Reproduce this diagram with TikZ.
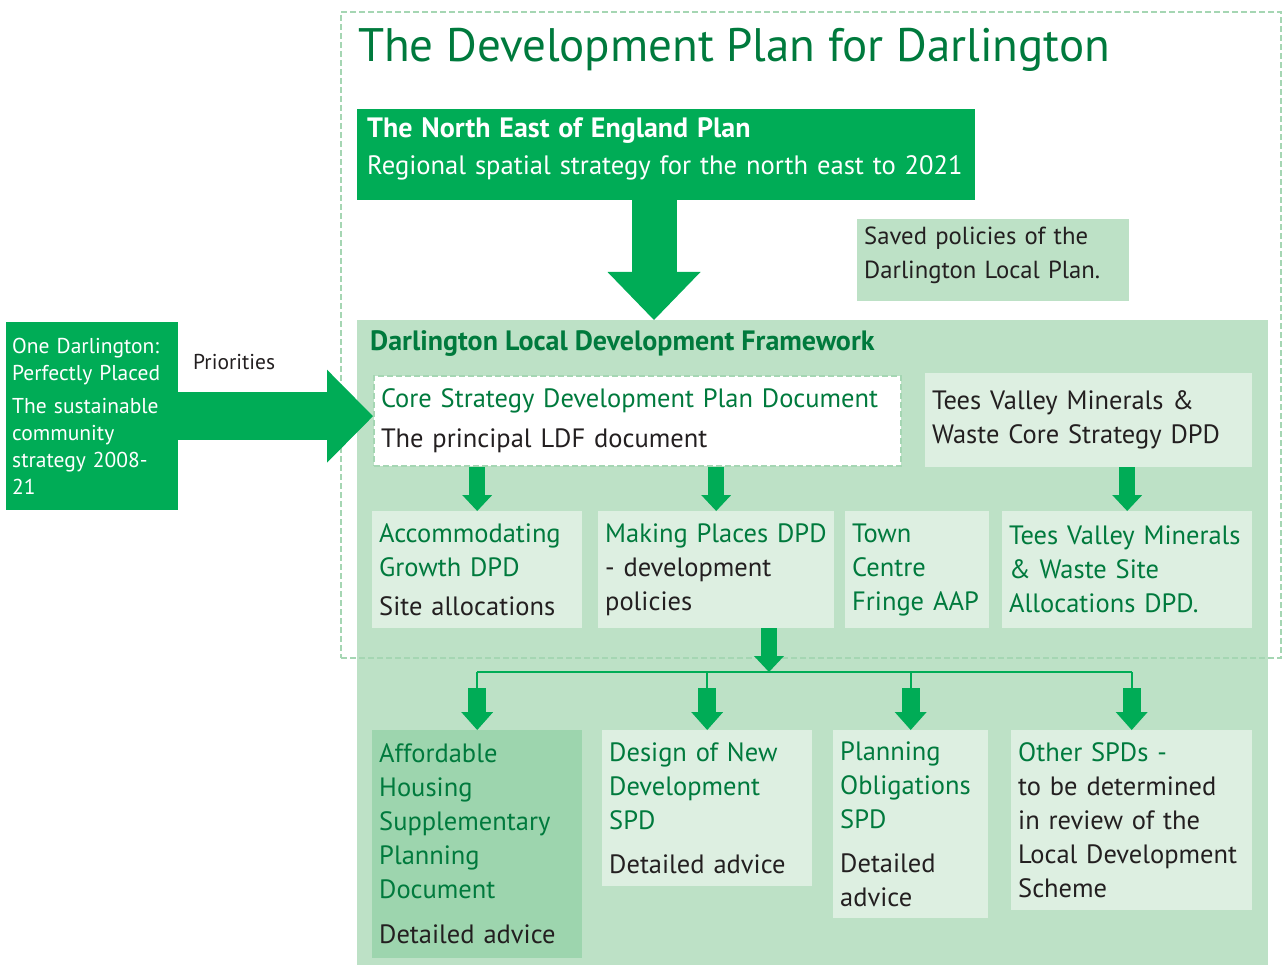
\documentclass[tikz,border=0pt]{standalone}
\usepackage{fontspec}
\setmainfont{PT Sans}
\usetikzlibrary{arrows.meta,calc}
\definecolor{brgreen}{HTML}{00AC56}
\definecolor{dkgreen}{HTML}{007A3D}
\definecolor{ldfgreen}{HTML}{BDE1C6}
\definecolor{palegreen}{HTML}{DDEFE1}
\definecolor{midgreen}{HTML}{9DD5AE}
\definecolor{dashgreen}{HTML}{A5D6B3}
\definecolor{txtblack}{HTML}{231F20}
\newcommand{\bodyfont}{\fontsize{26.5}{34}\selectfont}
\newcommand{\gr}[1]{\textcolor{dkgreen}{#1}}
\begin{document}
\begin{tikzpicture}[x=1pt,y=-1pt,
  box/.style={anchor=north west,inner xsep=7pt,inner ysep=0pt,align=left,text=txtblack,font=\bodyfont},
  dashbox/.style={draw=dashgreen,line width=2pt,dash pattern=on 6pt off 3pt},
  fatarrow/.style n args={3}{draw=brgreen,line width=#1,-{Triangle[length=#2,width=#3,line width=0pt]}}]
\useasboundingbox (0,0) rectangle (1282,965);
% framework background
\draw (357,320) node[anchor=north west,fill=ldfgreen,minimum width=911pt,minimum height=645pt,inner sep=0] (ldf) {};
\draw (340,11) node[anchor=north west,dashbox,minimum width=940pt,minimum height=646pt,inner sep=0] (plan) {};
\draw (358,62) node[anchor=base west,inner sep=0,text=dkgreen,font=\fontsize{47}{50}\selectfont] (title) {The Development Plan for Darlington};
% top of the plan
\draw (357,109) node[box,fill=brgreen,text=white,text width=598pt,minimum height=91pt,inner xsep=10pt,font=\fontsize{26.6}{37}\selectfont] (ne) {{\fontsize{28}{37}\selectfont\bfseries The North East of England Plan}\\Regional spatial strategy for the north east to 2021\rule[-18pt]{0pt}{0pt}};
\draw (857,219) node[box,fill=ldfgreen,text width=258pt,minimum height=82pt,font=\fontsize{24.7}{34}\selectfont] (saved) {Saved policies of the\\Darlington Local Plan.\rule[-15pt]{0pt}{0pt}};
\draw (6,322) node[box,fill=brgreen,text=white,text width=160pt,minimum height=188pt,inner xsep=6pt,font=\fontsize{21.5}{27}\selectfont] (ond) {One Darlington:\\Perfectly Placed\\[6pt]The sustainable\\community\\strategy 2008-\\21};
\draw (193,370) node[anchor=base west,inner sep=0,text=txtblack,font=\fontsize{21.5}{25}\selectfont] (prio) {Priorities};
% inside the framework
\draw (370,351) node[anchor=base west,inner sep=0,text=dkgreen,font=\fontsize{28}{30}\selectfont\bfseries] (ldfhead) {Darlington Local Development Framework};
\draw (373,375) node[box,fill=white,dashbox,text width=513pt,minimum height=90pt] (core) {\gr{Core Strategy Development Plan Document}\\[6pt]The principal LDF document};
\draw (925,373) node[box,fill=palegreen,text width=313pt,minimum height=94pt] (tvc) {Tees Valley Minerals \&\\Waste Core Strategy DPD};
\draw (372,511) node[box,fill=palegreen,text width=196pt,minimum height=117pt] (acc) {\gr{Accommodating}\\\gr{Growth DPD}\\[5pt]Site allocations};
\draw (598,511) node[box,fill=palegreen,text width=222pt,minimum height=117pt] (mp) {\gr{Making Places DPD}\\- development\\policies};
\draw (845,511) node[box,fill=palegreen,text width=130pt,minimum height=117pt] (tc) {\gr{Town}\\\gr{Centre}\\\gr{Fringe AAP}};
\draw (1002,511) node[box,fill=palegreen,text width=236pt,minimum height=117pt] (tvs) {\gr{Tees Valley Minerals}\\\gr{\& Waste Site}\\\gr{Allocations DPD.}};
\draw (372,730) node[box,fill=midgreen,text width=196pt,minimum height=228pt] (aff) {\gr{Affordable}\\\gr{Housing}\\\gr{Supplementary}\\\gr{Planning}\\\gr{Document}\\[11pt]Detailed advice};
\draw (602,730) node[box,fill=palegreen,text width=196pt,minimum height=156pt] (dnd) {\gr{Design of New}\\\gr{Development}\\\gr{SPD}\\[10pt]Detailed advice};
\draw (833,730) node[box,fill=palegreen,text width=141pt,minimum height=188pt] (po) {\gr{Planning}\\\gr{Obligations}\\\gr{SPD}\\[10pt]Detailed\\advice};
\draw (1011,730) node[box,fill=palegreen,text width=227pt,minimum height=180pt] (oth) {\gr{Other SPDs -}\\to be determined\\in review of the\\Local Development\\Scheme};
% arrows
\coordinate (bigx) at (654,0);
\coordinate (split) at (769,672);
\draw[fatarrow={45pt}{48pt}{93pt}] (ne.south -| bigx) -- (ldf.north -| bigx);
\draw[fatarrow={48pt}{46pt}{93pt}] (ond.east) -- (ond.east -| core.west);
\draw[fatarrow={16pt}{16pt}{30pt}] (acc.north |- core.south) -- (acc.north);
\draw[fatarrow={16pt}{16pt}{30pt}] (mp.north |- core.south) -- (mp.north);
\draw[fatarrow={16pt}{16pt}{30pt}] (tvs.north |- tvc.south) -- (tvs.north);
\draw[fatarrow={16pt}{16pt}{30pt}] (split |- mp.south) -- (split);
\draw[brgreen,line width=2pt] (split -| aff.north) -- (split -| oth.north);
\foreach \t in {aff,dnd,po,oth}{
  \draw[brgreen,line width=2pt] (split -| \t.north) -- ++(0,16) coordinate (drop-\t);
  \draw[fatarrow={18pt}{18pt}{32pt}] (drop-\t) -- (\t.north);
}
\end{tikzpicture}
\end{document}
